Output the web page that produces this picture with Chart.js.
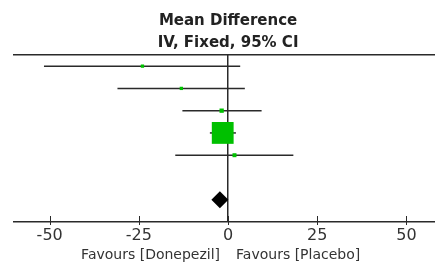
<!DOCTYPE html>
<html>
<head>
<meta charset="utf-8">
<script src="https://cdn.jsdelivr.net/npm/chart.js@4.4.1/dist/chart.umd.min.js"></script>
<style>
  html, body { margin: 0; padding: 0; background: #fff; }
  #wrap { width: 435px; height: 264px; }
</style>
</head>
<body>
<div id="wrap"><canvas id="forest"></canvas></div>
<script>
// study rows (top to bottom), mean difference with 95% CI
const rows = [1, 2, 3, 4, 5];
const means = [-24.0, -13.1, -1.8, -1.5, 1.8];
const lower = [-51.6, -31.0, -12.8, -5.1, -14.8];
const upper = [3.4, 4.7, 9.4, 2.2, 18.3];
const weights = [1.5, 2, 3.5, 90, 3]; // % weight, sets the square size

// pooled estimate
const totalRow = 7;
const totalMean = -2.3;

const tickValues = [-50, -25, 0, 25, 50];
const leftLabel = "Favours [Donepezil]";
const rightLabel = "Favours [Placebo]";
const titleLines = ["Mean Difference", "IV, Fixed, 95% CI"];

const ink = "#2a2a2a";
const green = "#00c000";

function squareRadius(w) {
  const side = Math.max(3.3, 23 * Math.sqrt(w / 100));
  return side / (2 * Math.SQRT1_2);
}

// one line dataset per confidence interval
const ciSets = rows.map((r, i) => ({
  type: "scatter",
  data: [{ x: lower[i], y: r }, { x: upper[i], y: r }],
  showLine: true,
  borderColor: ink,
  borderWidth: 1.5,
  pointRadius: 0,
  order: 2,
}));

// draws title, bottom labels and the short tick marks
const forestText = {
  id: "forestText",
  afterDraw(chart) {
    const ctx = chart.ctx;
    const x = chart.scales.x;
    const x0 = x.getPixelForValue(0);
    const bottom = chart.chartArea.bottom;
    ctx.save();
    ctx.strokeStyle = ink;
    ctx.lineWidth = 1;
    x.ticks.forEach((t) => {
      const px = Math.round(x.getPixelForValue(t.value)) + 0.5;
      ctx.beginPath();
      ctx.moveTo(px, bottom - 6);
      ctx.lineTo(px, bottom + 3);
      ctx.stroke();
    });
    ctx.fillStyle = "#222";
    ctx.textAlign = "center";
    ctx.textBaseline = "middle";
    ctx.font = "bold 15px 'DejaVu Sans'";
    ctx.fillText(titleLines[0], x0, 21);
    ctx.fillText(titleLines[1], x0, 43);
    ctx.fillStyle = "#333";
    ctx.font = "14px 'DejaVu Sans'";
    ctx.textAlign = "right";
    ctx.fillText(leftLabel, x0 - 8, 255);
    ctx.textAlign = "left";
    ctx.fillText(rightLabel, x0 + 8, 255);
    ctx.restore();
  },
};

new Chart(document.getElementById("forest"), {
  type: "scatter",
  data: {
    datasets: [
      ...ciSets,
      {
        data: rows.map((r, i) => ({ x: means[i], y: r })),
        pointStyle: "rect",
        pointRadius: weights.map(squareRadius),
        backgroundColor: green,
        borderWidth: 0,
        order: 1,
      },
      {
        data: [{ x: totalMean, y: totalRow }],
        pointStyle: "rectRot",
        pointRadius: 8.5,
        backgroundColor: "#000",
        borderWidth: 0,
        order: 1,
      },
    ],
  },
  options: {
    responsive: true,
    maintainAspectRatio: false,
    animation: false,
    events: [],
    layout: { autoPadding: false, padding: { top: 55, left: 14, right: 0, bottom: 0 } },
    plugins: { legend: { display: false }, tooltip: { enabled: false } },
    scales: {
      x: {
        type: "linear",
        position: "bottom",
        min: -60,
        max: 58,
        afterBuildTicks: (s) => { s.ticks = tickValues.map((v) => ({ value: v })); },
        afterFit: (s) => { s.height = 42; },
        ticks: {
          color: "#333",
          font: { family: "'DejaVu Sans'", size: 16 },
          padding: 4,
        },
        grid: {
          drawTicks: false,
          lineWidth: 1.5,
          color: (c) => (c.tick && c.tick.value === 0 ? ink : "rgba(0,0,0,0)"),
        },
        border: { display: true, color: ink, width: 1.5 },
      },
      x2: {
        type: "linear",
        position: "top",
        min: -60,
        max: 58,
        ticks: { display: false },
        grid: { display: false, drawTicks: false },
        afterFit: (s) => { s.height = 0; },
        border: { display: true, color: ink, width: 1.5 },
      },
      y: {
        type: "linear",
        min: 0.5,
        max: 8,
        reverse: true,
        display: false,
      },
    },
  },
  plugins: [forestText],
});
</script>
</body>
</html>
